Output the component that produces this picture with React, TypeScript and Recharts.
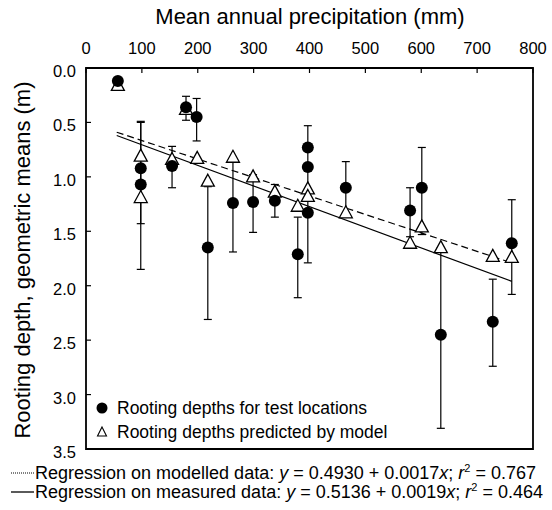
import { ScatterChart, Scatter, XAxis, YAxis, ErrorBar, ReferenceArea } from "recharts";

const precipTicks = [0, 100, 200, 300, 400, 500, 600, 700, 800];
const depthTicks = [0, 0.5, 1, 1.5, 2, 2.5, 3, 3.5];

// measured rooting depths (filled circles)
const measuredX = [57, 179, 198, 98, 98, 154, 218, 263, 299, 338, 379, 397, 397, 397, 465, 580, 601, 635, 728, 762];
const measuredDepth = [0.12, 0.36, 0.45, 0.92, 1.07, 0.9, 1.65, 1.24, 1.23, 1.22, 1.71, 0.73, 0.91, 1.33, 1.1, 1.31, 1.1, 2.45, 2.33, 1.61];

// model predictions (open triangles)
const predictedX = [57, 179, 98, 98, 154, 199, 218, 263, 299, 338, 379, 397, 397, 465, 580, 601, 635, 728, 762];
const predictedDepth = [0.16, 0.38, 0.81, 1.19, 0.84, 0.83, 1.04, 0.82, 1.0, 1.14, 1.27, 1.11, 1.18, 1.33, 1.61, 1.46, 1.65, 1.73, 1.74];

// error bars: low / high end
const barX = [179, 198, 98, 98, 154, 218, 263, 299, 338, 379, 397, 465, 580, 601, 635, 728, 762];
const barLow = [0.26, 0.28, 0.49, 0.5, 0.72, 1.09, 0.84, 0.98, 1.07, 1.37, 0.53, 0.86, 1.1, 0.73, 1.65, 1.94, 1.21];
const barHigh = [0.48, 0.67, 1.43, 1.85, 1.1, 2.31, 1.69, 1.51, 1.37, 2.11, 1.79, 1.35, 1.55, 1.53, 3.31, 2.74, 2.08];

// regression lines, ends
const regX = [55, 762];
const modelledReg = [0.59, 1.79];
const measuredReg = [0.62, 1.96];

const measured = measuredX.map((x, i) => ({ x, y: measuredDepth[i] }));
const predicted = predictedX.map((x, i) => ({ x, y: predictedDepth[i] }));
const bars = barX.map((x, i) => ({ x, y: barLow[i], err: [0, barHigh[i] - barLow[i]] }));
const modelledLine = regX.map((x, i) => ({ x, y: modelledReg[i] }));
const measuredLine = regX.map((x, i) => ({ x, y: measuredReg[i] }));

const font = "'Liberation Sans', Arial, sans-serif";

const TopTick = (props: any) => {
  const { x, y, payload } = props;
  return (
    <g>
      <line x1={x} y1={y} x2={x} y2={y + 5} stroke="#000" strokeWidth={1.2} />
      <text x={x} y={y - 14} textAnchor="middle" fontSize={16.5} fontFamily={font} fill="#000">
        {payload.value}
      </text>
    </g>
  );
};

const LeftTick = (props: any) => {
  const { x, y, payload } = props;
  return (
    <g>
      <line x1={x} y1={y} x2={x + 5} y2={y} stroke="#000" strokeWidth={1.2} />
      <text x={x - 10} y={y + 9} textAnchor="end" fontSize={16.5} fontFamily={font} fill="#000">
        {payload.value.toFixed(1)}
      </text>
    </g>
  );
};

const Dot = (props: any) => <circle cx={props.cx} cy={props.cy} r={6} fill="#000" />;

const Tri = (props: any) => {
  const { cx, cy } = props;
  return (
    <path
      d={`M${cx},${cy - 7} L${cx + 6.5},${cy + 5} L${cx - 6.5},${cy + 5} Z`}
      fill="#fff"
      stroke="#000"
      strokeWidth={1.3}
    />
  );
};

const Nothing = () => <g />;

export default function App() {
  return (
    <div style={{ position: "absolute", left: 0, top: 0, width: 552, height: 510, background: "#fff" }}>
      <ScatterChart width={552} height={510} margin={{ top: 0, right: 19, bottom: 61, left: 0 }}>
        <XAxis
          type="number"
          dataKey="x"
          orientation="top"
          domain={[0, 800]}
          ticks={precipTicks}
          height={68}
          tickSize={0}
          tickMargin={0}
          axisLine={false}
          tick={<TopTick />}
          interval={0}
        />
        <YAxis
          type="number"
          dataKey="y"
          domain={[0, 3.5]}
          ticks={depthTicks}
          reversed
          width={86}
          tickSize={0}
          tickMargin={0}
          axisLine={false}
          tick={<LeftTick />}
          interval={0}
        />
        <Scatter data={bars} shape={<Nothing />} isAnimationActive={false}>
          <ErrorBar dataKey="err" direction="y" width={4} stroke="#000" strokeWidth={1.2} />
        </Scatter>
        <Scatter
          data={modelledLine}
          shape={<Nothing />}
          line={{ stroke: "#000", strokeWidth: 1.2, strokeDasharray: "7 4" }}
          isAnimationActive={false}
        />
        <Scatter
          data={measuredLine}
          shape={<Nothing />}
          line={{ stroke: "#000", strokeWidth: 1.2 }}
          isAnimationActive={false}
        />
        <Scatter data={predicted} shape={<Tri />} isAnimationActive={false} />
        <Scatter data={measured} shape={<Dot />} isAnimationActive={false} />
        <ReferenceArea x1={0} x2={800} y1={0} y2={3.5} fill="none" stroke="#000" strokeWidth={1.8} ifOverflow="visible" />
        <text x={310} y={24} textAnchor="middle" fontSize={22} fontFamily={font} fill="#000">
          Mean annual precipitation (mm)
        </text>
        <text
          x={22}
          y={260}
          transform="rotate(-90 22 260)"
          textAnchor="middle"
          dominantBaseline="central"
          fontSize={22}
          fontFamily={font}
          fill="#000"
        >
          Rooting depth, geometric means (m)
        </text>
        <circle cx={102} cy={408} r={5.5} fill="#000" />
        <text x={117} y={414} fontSize={17.5} fontFamily={font} fill="#000">
          Rooting depths for test locations
        </text>
        <path d="M102,427 L106.5,436 L97.5,436 Z" fill="#fff" stroke="#000" strokeWidth={1.1} />
        <text x={117} y={438} fontSize={17.5} fontFamily={font} fill="#000">
          Rooting depths predicted by model
        </text>
        <line x1={11} y1={473} x2={34} y2={473} stroke="#000" strokeWidth={1} strokeDasharray="1 1" />
        <text x={35} y={479} fontSize={18} fontFamily={font} fill="#000">
          Regression on modelled data: <tspan fontStyle="italic">y</tspan> = 0.4930 + 0.0017
          <tspan fontStyle="italic">x</tspan>; <tspan fontStyle="italic">r</tspan>
          <tspan dy={-7} fontSize={11}>2</tspan>
          <tspan dy={7}> = 0.767</tspan>
        </text>
        <line x1={11} y1={492} x2={34} y2={492} stroke="#000" strokeWidth={1.3} />
        <text x={35} y={498} fontSize={18} fontFamily={font} fill="#000">
          Regression on measured data: <tspan fontStyle="italic">y</tspan> = 0.5136 + 0.0019
          <tspan fontStyle="italic">x</tspan>; <tspan fontStyle="italic">r</tspan>
          <tspan dy={-7} fontSize={11}>2</tspan>
          <tspan dy={7}> = 0.464</tspan>
        </text>
      </ScatterChart>
    </div>
  );
}
